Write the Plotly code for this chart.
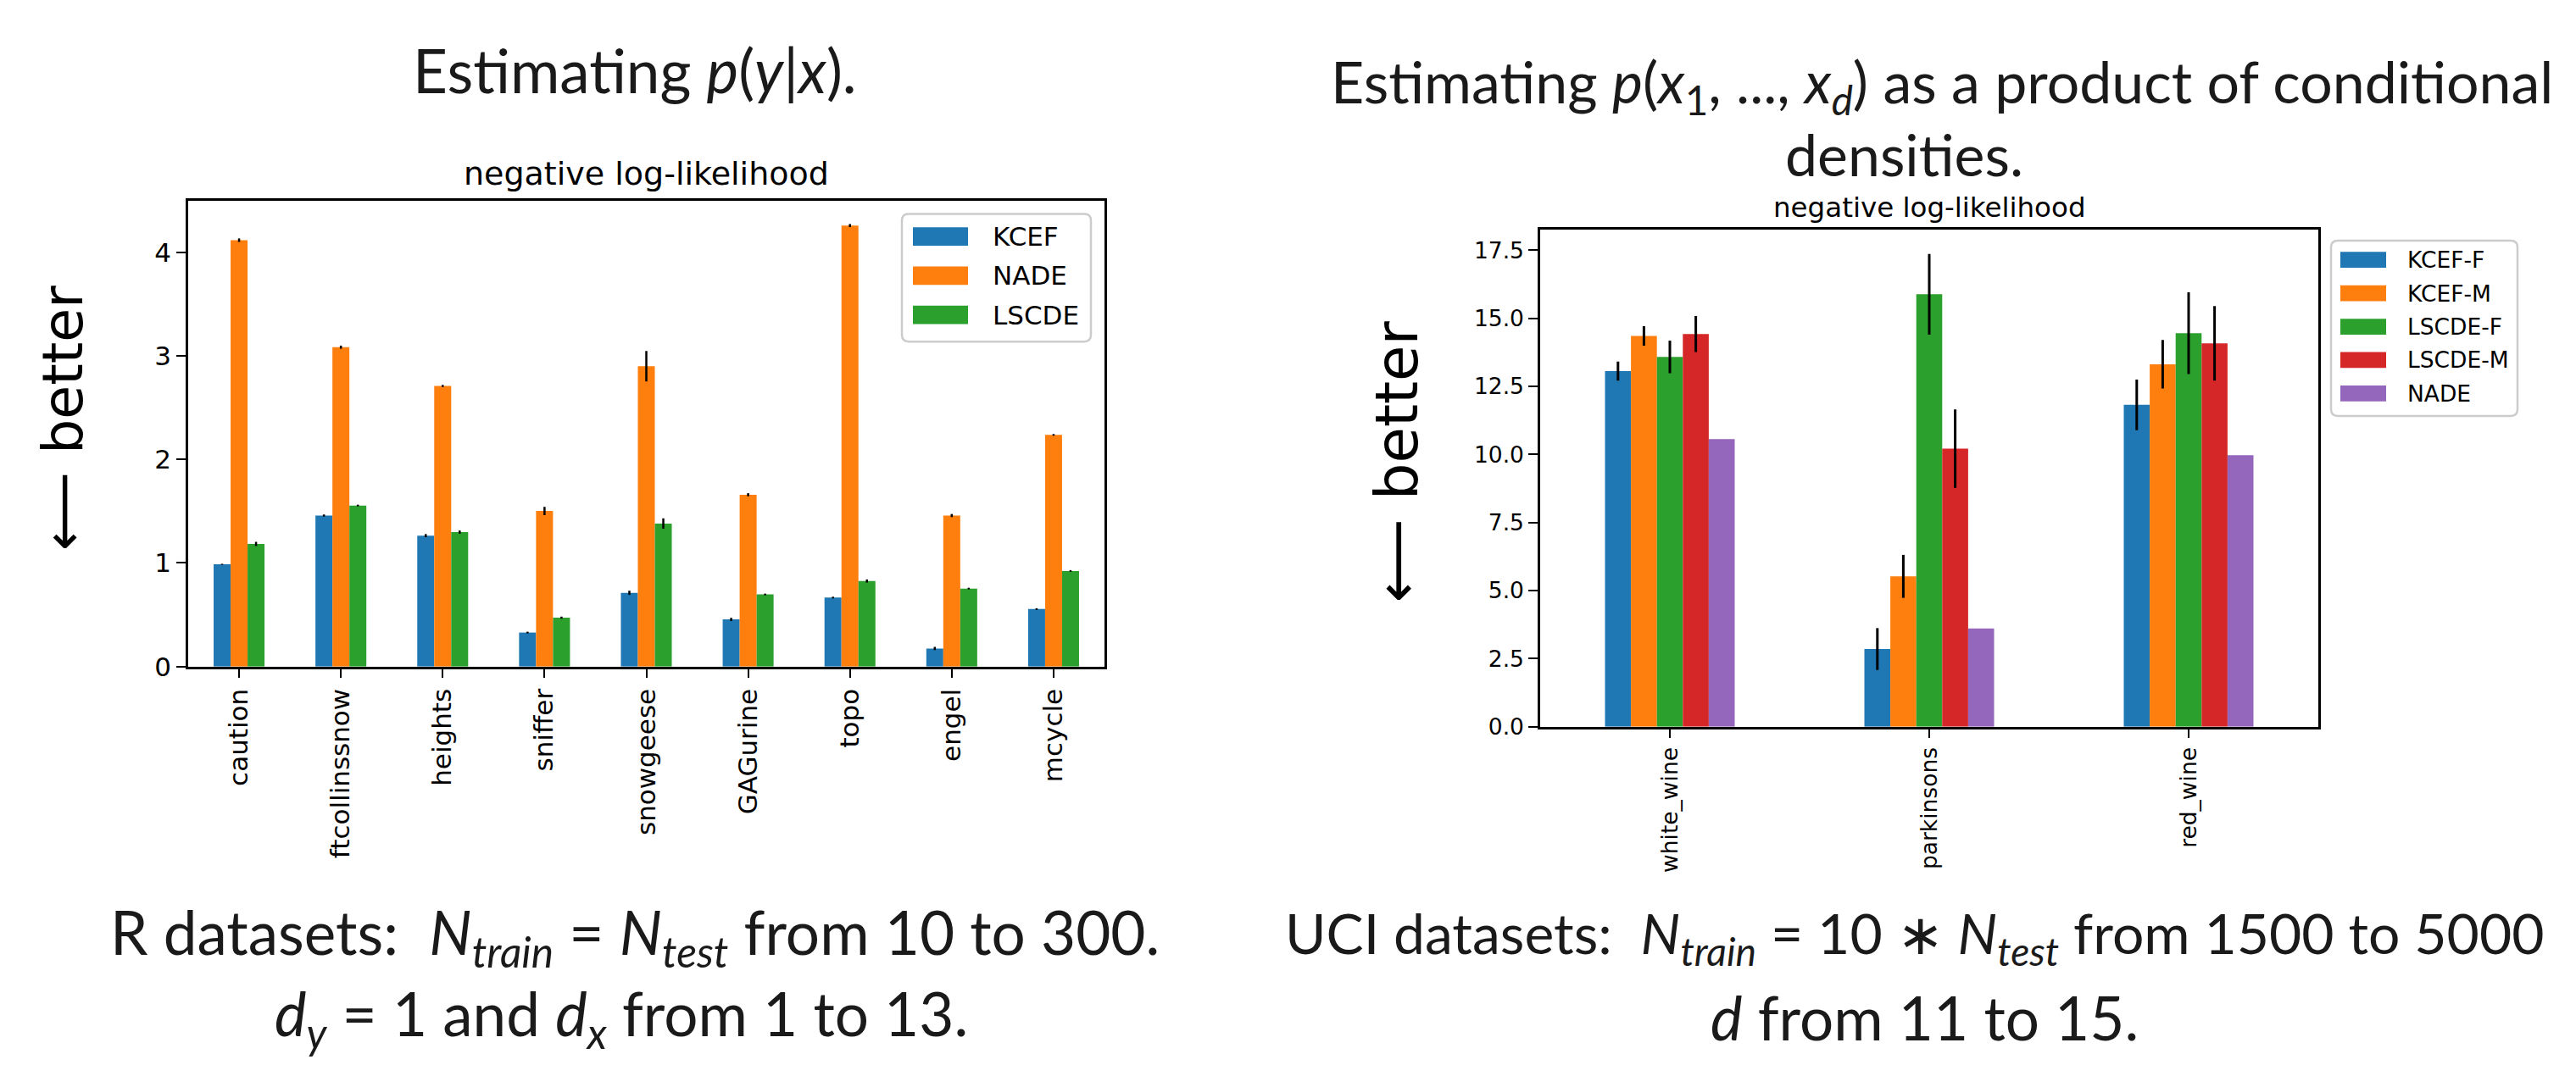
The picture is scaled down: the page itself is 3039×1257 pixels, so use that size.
import plotly.graph_objects as go

W, H = 3039, 1257

# ---------------- data ----------------
r_datasets = ["caution", "ftcollinssnow", "heights", "sniffer", "snowgeese",
              "GAGurine", "topo", "engel", "mcycle"]
r_series = ["KCEF", "NADE", "LSCDE"]
r_kcef = [0.987, 1.458, 1.264, 0.328, 0.712, 0.455, 0.666, 0.174, 0.555]
r_nade = [4.117, 3.084, 2.709, 1.502, 2.900, 1.659, 4.258, 1.458, 2.237]
r_lscde = [1.184, 1.555, 1.298, 0.472, 1.381, 0.696, 0.826, 0.753, 0.923]
r_kcef_err = [0.005, 0.010, 0.015, 0.008, 0.020, 0.015, 0.008, 0.015, 0.008]
r_nade_err = [0.017, 0.015, 0.010, 0.040, 0.147, 0.015, 0.015, 0.015, 0.008]
r_lscde_err = [0.020, 0.008, 0.015, 0.010, 0.050, 0.008, 0.015, 0.008, 0.008]

uci_datasets = ["white_wine", "parkinsons", "red_wine"]
uci_series = ["KCEF-F", "KCEF-M", "LSCDE-F", "LSCDE-M", "NADE"]
uci_kcef_f = [13.06, 2.85, 11.82]
uci_kcef_m = [14.35, 5.52, 13.31]
uci_lscde_f = [13.58, 15.88, 14.45]
uci_lscde_m = [14.42, 10.21, 14.08]
uci_nade = [10.56, 3.61, 9.97]
uci_kcef_f_err = [0.35, 0.77, 0.93]
uci_kcef_m_err = [0.36, 0.79, 0.89]
uci_lscde_f_err = [0.60, 1.48, 1.50]
uci_lscde_m_err = [0.66, 1.44, 1.37]
uci_nade_err = [0.0, 0.0, 0.0]

colors = ["#1f77b4", "#ff7f0e", "#2ca02c", "#d62728", "#9467bd"]

r_values = [r_kcef, r_nade, r_lscde]
r_errors = [r_kcef_err, r_nade_err, r_lscde_err]
uci_values = [uci_kcef_f, uci_kcef_m, uci_lscde_f, uci_lscde_m, uci_nade]
uci_errors = [uci_kcef_f_err, uci_kcef_m_err, uci_lscde_f_err, uci_lscde_m_err, uci_nade_err]


def px(x):
    return x / W


def py(y):
    return 1 - y / H


fig = go.Figure()

for name, vals, errs, col in zip(r_series, r_values, r_errors, colors):
    fig.add_trace(go.Bar(
        x=r_datasets, y=vals, name=name, marker=dict(color=col, line=dict(width=0)),
        error_y=dict(type="data", array=errs, color="black", thickness=2.5, width=0),
        xaxis="x", yaxis="y", offsetgroup=name, showlegend=False,
    ))

for name, vals, errs, col in zip(uci_series, uci_values, uci_errors, colors):
    fig.add_trace(go.Bar(
        x=uci_datasets, y=vals, name=name, marker=dict(color=col, line=dict(width=0)),
        error_y=dict(type="data", array=errs, color="black", thickness=3, width=0),
        xaxis="x2", yaxis="y2", offsetgroup="u" + name, showlegend=False,
    ))

tick_font_l = dict(family="DejaVu Sans", size=31, color="black")
tick_font_r = dict(family="DejaVu Sans", size=26.5, color="black")

axis_common = dict(showline=True, linecolor="black", linewidth=2.5, mirror=True,
                   ticks="outside", ticklen=11, tickwidth=2, tickcolor="black",
                   showgrid=False, zeroline=False)

fig.update_layout(
    width=W, height=H, margin=dict(l=0, r=0, t=0, b=0),
    paper_bgcolor="white", plot_bgcolor="white",
    barmode="group", bargap=0.5, bargroupgap=0,
    xaxis=dict(domain=[px(214), px(1295)], anchor="y", tickangle=-90,
               tickfont=tick_font_l, range=[-0.5, 8.5], **axis_common),
    yaxis=dict(domain=[py(790), py(232)], anchor="x", range=[0, 4.5], dtick=1,
               tickfont=tick_font_l, **axis_common),
    xaxis2=dict(domain=[px(1809), px(2727)], anchor="y2", tickangle=-90,
                tickfont=tick_font_r, range=[-0.5, 2.5], **axis_common),
    yaxis2=dict(domain=[py(862), py(267)], anchor="x2", range=[0, 18.25], dtick=2.5,
                tickformat=".1f", tickfont=tick_font_r, **axis_common),
)

annotations = []
shapes = []

# subplot titles
annotations.append(dict(text="negative log-likelihood", x=px(754), y=py(200),
                        xref="paper", yref="paper", showarrow=False,
                        xanchor="center", yanchor="middle",
                        font=dict(family="DejaVu Sans", size=38, color="black")))
annotations.append(dict(text="negative log-likelihood", x=px(2268), y=py(240),
                        xref="paper", yref="paper", showarrow=False,
                        xanchor="center", yanchor="middle",
                        font=dict(family="DejaVu Sans", size=32.5, color="black")))


def rounded_rect(x0, y0, x1, y1, r):
    X0, X1 = px(x0), px(x1)
    Y0, Y1 = py(y0), py(y1)
    rx, ry = r / W, r / H
    return (f"M {X0+rx},{Y0} L {X1-rx},{Y0} Q {X1},{Y0} {X1},{Y0-ry} "
            f"L {X1},{Y1+ry} Q {X1},{Y1} {X1-rx},{Y1} L {X0+rx},{Y1} "
            f"Q {X0},{Y1} {X0},{Y1+ry} L {X0},{Y0-ry} Q {X0},{Y0} {X0+rx},{Y0} Z")


def legend(box, patch_x, patch_h, text_x, rows, names, fsize):
    x0, y0, x1, y1 = box
    shapes.append(dict(type="path", xref="paper", yref="paper",
                       path=rounded_rect(x0, y0, x1, y1, 8),
                       fillcolor="rgba(255,255,255,0.8)",
                       line=dict(color="#cccccc", width=2.5), layer="above"))
    for name, yc, col in zip(names, rows, colors):
        shapes.append(dict(type="rect", xref="paper", yref="paper",
                           x0=px(patch_x[0]), x1=px(patch_x[1]),
                           y0=py(yc - patch_h / 2), y1=py(yc + patch_h / 2),
                           fillcolor=col, line=dict(width=0), layer="above"))
        annotations.append(dict(text=name, x=px(text_x), y=py(yc), xref="paper",
                                yref="paper", showarrow=False, xanchor="left",
                                yanchor="middle",
                                font=dict(family="DejaVu Sans", size=fsize, color="black")))


legend((1056, 248, 1279, 401), (1069, 1134), 22, 1161, [275, 322, 369], r_series, 31)
legend((2742, 280, 2962, 490), (2753, 2807), 19, 2830, [303, 343, 383, 423, 463],
       uci_series, 26.5)

# "better" arrows
for xc, yc, fs in [(67, 493, 65), (1640, 545, 69)]:
    annotations.append(dict(text="\u27f5 better", x=px(xc), y=py(yc), xref="paper",
                            yref="paper", showarrow=False, textangle=-90,
                            xanchor="center", yanchor="middle",
                            font=dict(family="DejaVu Sans", size=fs, color="black")))

big = dict(family="Lato", color="#1a1a1a")

annotations.append(dict(text="Estimating <i>p</i>(<i>y</i>|<i>x</i>).",
                        x=px(741), y=py(76), xref="paper", yref="paper", showarrow=False,
                        xanchor="center", yanchor="middle", font=dict(size=71, **big)))
annotations.append(dict(text="Estimating <i>p</i>(<i>x</i><sub>1</sub>, ..., <i>x</i><sub><i>d</i></sub>) as a product of conditional",
                        x=px(2283), y=py(94), xref="paper", yref="paper", showarrow=False,
                        xanchor="center", yanchor="middle", font=dict(size=68, **big)))
annotations.append(dict(text="densities.",
                        x=px(2238), y=py(176), xref="paper", yref="paper", showarrow=False,
                        xanchor="center", yanchor="middle", font=dict(size=68, **big)))

annotations.append(dict(text="R datasets:  <i>N</i><sub><i>train</i></sub> = <i>N</i><sub><i>test</i></sub> from 10 to 300.",
                        x=px(120), y=py(1113), xref="paper", yref="paper", showarrow=False,
                        xanchor="left", yanchor="middle", font=dict(size=71, **big)))
annotations.append(dict(text="<i>d</i><sub><i>y</i></sub> = 1 and <i>d</i><sub><i>x</i></sub> from 1 to 13.",
                        x=px(725), y=py(1210), xref="paper", yref="paper", showarrow=False,
                        xanchor="center", yanchor="middle", font=dict(size=71, **big)))
annotations.append(dict(text="UCI datasets:  <i>N</i><sub><i>train</i></sub> = 10 \u2217 <i>N</i><sub><i>test</i></sub> from 1500 to 5000",
                        x=px(1506), y=py(1113), xref="paper", yref="paper", showarrow=False,
                        xanchor="left", yanchor="middle", font=dict(size=66, **big)))
annotations.append(dict(text="<i>d</i> from 11 to 15.",
                        x=px(2262), y=py(1210), xref="paper", yref="paper", showarrow=False,
                        xanchor="center", yanchor="middle", font=dict(size=71, **big)))

fig.update_layout(annotations=annotations, shapes=shapes)

fig.write_html("out.html")
